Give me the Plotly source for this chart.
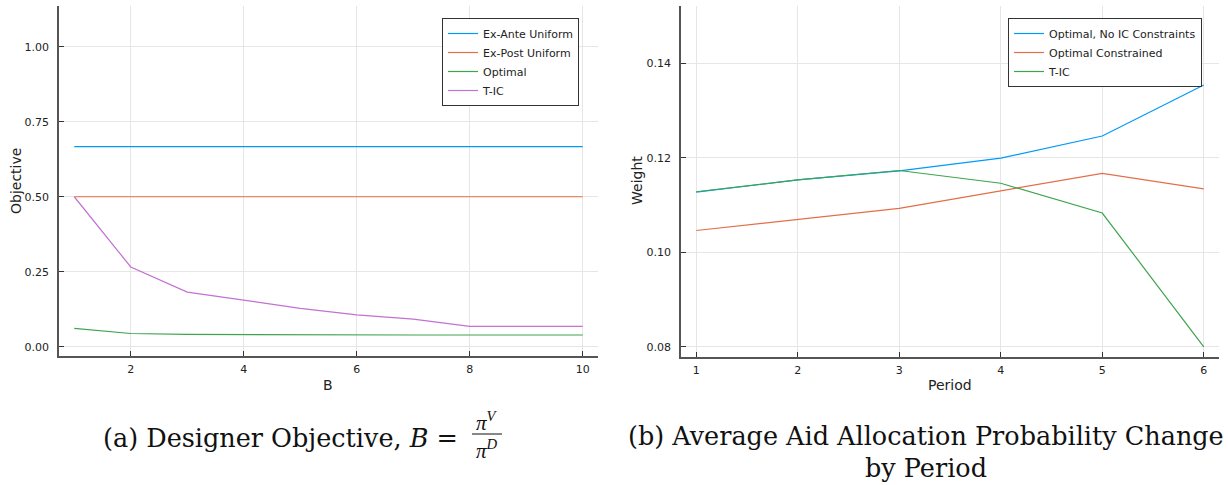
import plotly.graph_objects as go

W, H = 1228, 485

# ---- Data: panel (a) ----
B_vals = [1, 2, 3, 4, 5, 6, 7, 8, 9, 10]
ex_ante_uniform = [0.667] * 10
ex_post_uniform = [0.5] * 10
optimal_a = [0.061, 0.044, 0.041, 0.040, 0.039, 0.039, 0.039, 0.039, 0.039, 0.039]
t_ic_a = [0.5, 0.266, 0.182, 0.155, 0.128, 0.106, 0.092, 0.068, 0.068, 0.068]
names_a = ["Ex-Ante Uniform", "Ex-Post Uniform", "Optimal", "T-IC"]

# ---- Data: panel (b) ----
periods = [1, 2, 3, 4, 5, 6]
opt_no_ic = [0.1127, 0.1153, 0.1172, 0.1199, 0.1246, 0.1354]
opt_constrained = [0.1046, 0.1070, 0.1093, 0.1130, 0.1167, 0.1134]
t_ic_b = [0.1128, 0.1153, 0.1173, 0.1146, 0.1083, 0.0800]
names_b = ["Optimal, No IC Constraints", "Optimal Constrained", "T-IC"]

C_BLUE, C_ORANGE, C_GREEN, C_PURPLE = "#009AFA", "#E36F47", "#3EA44E", "#C371D2"

def px_x(p):
    return p / W

def px_y(p):
    return 1 - p / H

fig = go.Figure()

for name, ys, col in zip(names_a, [ex_ante_uniform, ex_post_uniform, optimal_a, t_ic_a],
                         [C_BLUE, C_ORANGE, C_GREEN, C_PURPLE]):
    fig.add_trace(go.Scatter(x=B_vals, y=ys, mode="lines", name=name,
                             line=dict(color=col, width=1.2),
                             xaxis="x", yaxis="y", legend="legend"))

for name, ys, col in zip(names_b, [opt_no_ic, opt_constrained, t_ic_b],
                         [C_BLUE, C_ORANGE, C_GREEN]):
    fig.add_trace(go.Scatter(x=periods, y=ys, mode="lines", name=name,
                             line=dict(color=col, width=1.2),
                             xaxis="x2", yaxis="y2", legend="legend2"))

tickfont = dict(family="DejaVu Sans", size=11, color="#222")
axis_common = dict(showline=True, linecolor="#555", linewidth=1.5, mirror=False,
                   showgrid=True, gridcolor="#e6e6e6", gridwidth=1,
                   ticks="inside", ticklen=5, tickcolor="#333", tickwidth=1,
                   tickfont=tickfont, zeroline=False)

fig.update_layout(
    width=W, height=H,
    margin=dict(l=0, r=0, t=0, b=0),
    paper_bgcolor="white", plot_bgcolor="white",
    showlegend=True,
    xaxis=dict(domain=[px_x(59), px_x(598)], range=[0.73, 10.27],
               tickvals=[2, 4, 6, 8, 10], ticktext=["2", "4", "6", "8", "10"],
               anchor="y", ticklabelstandoff=2, **axis_common),
    yaxis=dict(domain=[px_y(356), px_y(6)], range=[-0.031, 1.136],
               tickvals=[0, 0.25, 0.5, 0.75, 1.0],
               ticktext=["0.00", "0.25", "0.50", "0.75", "1.00"],
               anchor="x", ticklabelstandoff=6, **axis_common),
    xaxis2=dict(domain=[px_x(681), px_x(1219)], range=[0.85, 6.15],
                tickvals=periods, ticktext=[str(p) for p in periods],
                anchor="y2", ticklabelstandoff=2, **axis_common),
    yaxis2=dict(domain=[px_y(356.7), px_y(6)], range=[0.0779, 0.1521],
                tickvals=[0.08, 0.10, 0.12, 0.14],
                ticktext=["0.08", "0.10", "0.12", "0.14"],
                anchor="x2", ticklabelstandoff=6, **axis_common),
    legend=dict(x=px_x(579), y=px_y(18), xanchor="right", yanchor="top",
                bgcolor="white", bordercolor="#333", borderwidth=1,
                font=dict(family="DejaVu Sans", size=11, color="#222"),
                tracegroupgap=0, itemwidth=30),
    legend2=dict(x=px_x(1202), y=px_y(18), xanchor="right", yanchor="top",
                 bgcolor="white", bordercolor="#333", borderwidth=1,
                 font=dict(family="DejaVu Sans", size=11, color="#222"),
                 tracegroupgap=0, itemwidth=30),
)

title_font = dict(family="DejaVu Sans", size=14, color="#222")
serif = dict(family="DejaVu Serif", size=25.5, color="#111")
frac_font = dict(family="Liberation Serif", size=21, color="#111")
annots = [
    dict(x=px_x(328), y=px_y(385), text="B", font=title_font),
    dict(x=px_x(16), y=px_y(181), text="Objective", textangle=-90, font=title_font),
    dict(x=px_x(950), y=px_y(385), text="Period", font=title_font),
    dict(x=px_x(637), y=px_y(181), text="Weight", textangle=-90, font=title_font),
    # captions
    dict(x=px_x(460), y=px_y(438), text="(a) Designer Objective, <i>B</i> =",
         xanchor="right", font=serif),
    dict(x=px_x(487), y=px_y(421), text="<i>π</i><sup><i>V</i></sup>", font=frac_font),
    dict(x=px_x(487), y=px_y(449), text="<i>π</i><sup><i>D</i></sup>", font=frac_font),
    dict(x=px_x(926), y=px_y(436), text="(b) Average Aid Allocation Probability Change",
         font=serif),
    dict(x=px_x(926), y=px_y(468), text="by Period", font=serif),
]
for a in annots:
    a.setdefault("xref", "paper")
    a.setdefault("yref", "paper")
    a.setdefault("showarrow", False)
    a.setdefault("xanchor", "center")
    a.setdefault("yanchor", "middle")
fig.update_layout(annotations=annots)

fig.add_shape(type="line", xref="paper", yref="paper",
              x0=px_x(472), x1=px_x(502), y0=px_y(434), y1=px_y(434),
              line=dict(color="#111", width=1))

fig.write_html("out.html", config={"displayModeBar": False},
               post_script="document.body.style.margin='0';document.body.style.padding='0';")
